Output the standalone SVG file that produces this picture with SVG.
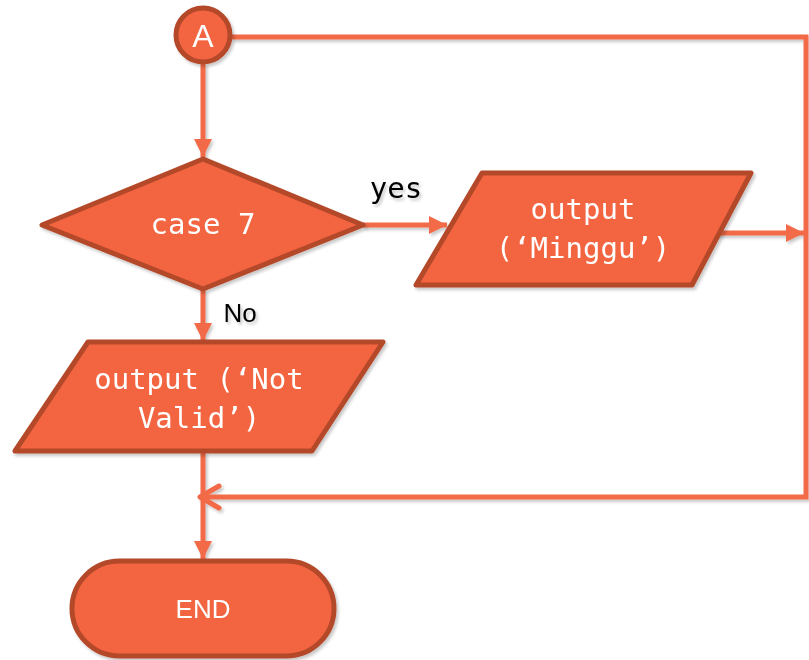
<svg xmlns="http://www.w3.org/2000/svg" width="809" height="660" viewBox="0 0 809 660">
<style>
.shape{fill:#F36541;stroke:#B4482B;stroke-width:5;stroke-linejoin:round}
.conn{fill:none;stroke:#F26A46;stroke-width:5}
.mono{font-family:"DejaVu Sans Mono","Liberation Mono",monospace;font-size:29px;fill:#FFFFFF;text-anchor:middle}
.sans{font-family:"Liberation Sans","Noto Sans",sans-serif;fill:#FFFFFF;text-anchor:middle}
.lbl{fill:#000000}
</style>
<defs>
<filter id="sh" x="-10%" y="-10%" width="130%" height="130%">
<feDropShadow dx="2" dy="2.5" stdDeviation="1.8" flood-color="#000" flood-opacity="0.22"/>
</filter>
<marker id="arr" viewBox="0 0 10 10" refX="10" refY="5" markerWidth="3.6" markerHeight="3.6" orient="auto" markerUnits="strokeWidth" preserveAspectRatio="none">
<path d="M0,0 L10,5 L0,10 z" fill="#F26A46"/>
</marker>
</defs>
<g id="connectors" filter="url(#sh)">
<path class="conn" d="M231,37 L806,37 L806,497 L200,497"/>
<path class="conn" d="M219,486 L200,497 L219,508" stroke-linecap="round" stroke-linejoin="round"/>
<path class="conn" d="M203,63 L203,157" marker-end="url(#arr)"/>
<path class="conn" d="M363,225 L447,225" marker-end="url(#arr)"/>
<path class="conn" d="M714,233 L804,233" marker-end="url(#arr)"/>
<path class="conn" d="M203,290 L203,341" marker-end="url(#arr)"/>
<path class="conn" d="M203,452 L203,559" marker-end="url(#arr)"/>
<text class="mono lbl" x="396" y="198">yes</text>
<text class="sans lbl" x="240" y="322" font-size="26">No</text>
</g>
<g id="nodeA" filter="url(#sh)">
<circle class="shape" cx="203" cy="35" r="27"/>
<text class="sans" x="203" y="47" font-size="32">A</text>
</g>
<g id="case7" filter="url(#sh)">
<polygon class="shape" points="203,159 363,225 203,289 42,225"/>
<text class="mono" x="203" y="234">case 7</text>
</g>
<g id="minggu" filter="url(#sh)">
<polygon class="shape" points="482,173 751,173 692,285 416,285"/>
<text class="mono" x="583" y="219">output</text>
<text class="mono" x="583" y="258">(‘Minggu’)</text>
</g>
<g id="notvalid" filter="url(#sh)">
<polygon class="shape" points="88,342 383,342 312,451 15,451"/>
<text class="mono" x="199" y="389">output (‘Not</text>
<text class="mono" x="199" y="428">Valid’)</text>
</g>
<g id="end" filter="url(#sh)">
<rect class="shape" x="72" y="561" width="262" height="95" rx="47.5"/>
<text class="sans" x="203" y="618" font-size="26">END</text>
</g>
</svg>
